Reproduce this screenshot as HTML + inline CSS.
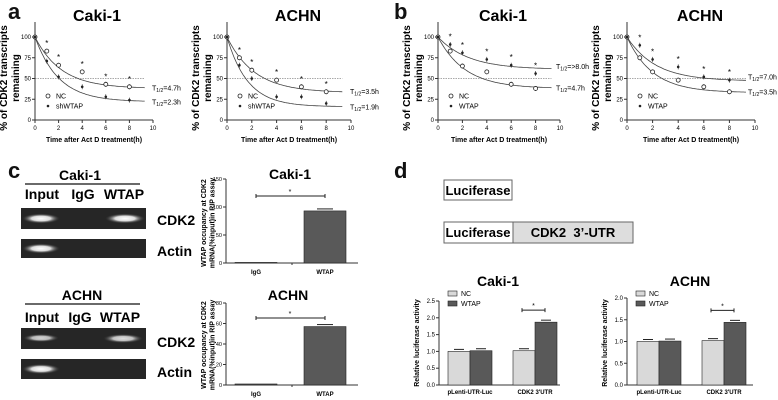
<!DOCTYPE html>
<html><head><meta charset="utf-8"><style>
html,body{margin:0;padding:0;background:#fff;}
svg{display:block;font-family:"Liberation Sans",Arial,sans-serif;}
</style></head><body>
<svg id="fig" width="778" height="400" viewBox="0 0 778 400" xmlns="http://www.w3.org/2000/svg">
<defs>
<radialGradient id="band" cx="50%" cy="50%" r="50%"><stop offset="0" stop-color="#fff"/><stop offset="0.5" stop-color="#ddd"/><stop offset="1" stop-color="#333" stop-opacity="0"/></radialGradient>
</defs>
<g font-weight="bold" font-size="22" fill="#111">
<text x="8" y="19">a</text>
<text x="394" y="19">b</text>
<text x="8" y="178">c</text>
<text x="394" y="178">d</text>
</g>
<g>
<text x="80" y="180" font-size="14" font-weight="bold" text-anchor="middle">Caki-1</text>
<line x1="25" y1="184" x2="140" y2="184" stroke="#111" stroke-width="1.2"/>
<text x="42" y="199" font-size="14" font-weight="bold" text-anchor="middle">Input</text>
<text x="83" y="199" font-size="14" font-weight="bold" text-anchor="middle">IgG</text>
<text x="124" y="199" font-size="14" font-weight="bold" text-anchor="middle">WTAP</text>
<rect x="21" y="208" width="125" height="21" fill="#262626"/>
<ellipse cx="41" cy="218.5" rx="19" ry="5" fill="url(#band)"/>
<ellipse cx="125" cy="218.5" rx="20" ry="5" fill="url(#band)"/>
<rect x="21" y="239" width="125" height="19" fill="#262626"/>
<ellipse cx="41" cy="248.5" rx="19" ry="5" fill="url(#band)"/>
<text x="157" y="225" font-size="14" font-weight="bold">CDK2</text>
<text x="157" y="256" font-size="14" font-weight="bold">Actin</text>
</g>
<g>
<text x="82" y="300" font-size="14" font-weight="bold" text-anchor="middle">ACHN</text>
<line x1="25" y1="304" x2="140" y2="304" stroke="#111" stroke-width="1.2"/>
<text x="42" y="322" font-size="14" font-weight="bold" text-anchor="middle">Input</text>
<text x="80" y="322" font-size="14" font-weight="bold" text-anchor="middle">IgG</text>
<text x="120" y="322" font-size="14" font-weight="bold" text-anchor="middle">WTAP</text>
<rect x="21" y="328" width="125" height="21" fill="#262626"/>
<ellipse cx="41" cy="338" rx="18" ry="4" fill="url(#band)" opacity="0.8"/>
<ellipse cx="123" cy="338.5" rx="20" ry="4.5" fill="url(#band)" opacity="0.85"/>
<rect x="21" y="359" width="125" height="20" fill="#262626"/>
<ellipse cx="41" cy="369" rx="19" ry="5" fill="url(#band)"/>
<text x="157" y="347" font-size="14" font-weight="bold">CDK2</text>
<text x="157" y="377" font-size="14" font-weight="bold">Actin</text>
</g>
<g>
<rect x="444" y="180" width="68" height="20" fill="#fff" stroke="#666"/>
<text x="478" y="195" font-size="13" font-weight="bold" text-anchor="middle">Luciferase</text>
<rect x="444" y="222" width="69" height="21" fill="#fff" stroke="#666"/>
<rect x="513" y="222" width="120" height="21" fill="#ddd" stroke="#666"/>
<text x="478" y="237" font-size="13" font-weight="bold" text-anchor="middle">Luciferase</text>
<text x="573" y="237" font-size="13" font-weight="bold" text-anchor="middle" xml:space="preserve">CDK2  3’-UTR</text>
</g>
<g id="charts"></g>
</svg>
<script>
var decayTimes = [0,1,2,4,6,8];
var aCakiNC = [100,83,66,58,43,40];
var aCakiSh = [100,71,52,40,28,24];
var aAchnNC = [100,75,60,48,40,34];
var aAchnSh = [100,66,50,28,28,20];
var bCakiNC = [100,83,65,58,43,38];
var bCakiW = [100,91,81,73,66,56];
var bAchnNC = [100,75,58,48,40,34];
var bAchnW = [100,90,73,64,52,48];
var aCakiFit = [[38,0.45],[22,0.5]];
var aAchnFit = [[33,0.45],[16,0.6]];
var bCakiFit = [[38,0.45],[61,0.4]];
var bAchnFit = [[33,0.5],[47,0.45]];
var yTicksDecay = [0,25,50,75,100];
var xTicksDecay = [0,2,4,6,8,10];
var ripCats = ["IgG","WTAP"];
var ripCaki = [1,93];
var ripAchn = [1,57];
var ripCakiTicks = [0,50,100,150];
var ripAchnTicks = [0,20,40,60,80];
var lucCats = ["pLenti-UTR-Luc","CDK2  3'UTR"];
var lucCakiNC = [1.0,1.02];
var lucCakiW = [1.02,1.87];
var lucAchnNC = [1.0,1.02];
var lucAchnW = [1.01,1.44];
var lucCakiTicks = [0,0.5,1.0,1.5,2.0,2.5];
var lucAchnTicks = [0,0.5,1.0,1.5,2.0];

var NS="http://www.w3.org/2000/svg";
var root=document.getElementById('charts');
function mk(tag,attrs,parent,txt){var e=document.createElementNS(NS,tag);for(var k in attrs)e.setAttribute(k,attrs[k]);if(txt!==undefined)e.textContent=txt;(parent||root).appendChild(e);return e;}

function decay(o){
  var g=mk('g',{});
  
  
  var X=function(t){return o.x0+t*(o.x10-o.x0)/10;};
  var Y=function(v){return 120-v*0.83;};
  mk('text',{x:o.tx,y:21,'font-size':16,'font-weight':'bold','text-anchor':'middle'},g,o.title);
  var yl=mk('text',{transform:'translate('+(o.x0-24)+',78) rotate(-90)','font-size':10,'font-weight':'bold','text-anchor':'middle'},g);
  mk('tspan',{x:0,dy:-4},yl,'% of CDK2 transcripts');
  mk('tspan',{x:0,dy:12},yl,'remaining');
  mk('line',{x1:o.x0,y1:22,x2:o.x0,y2:120,stroke:'#333'},g);
  mk('line',{x1:o.x0,y1:120,x2:o.x10,y2:120,stroke:'#333'},g);
  yTicksDecay.forEach(function(v){mk('line',{x1:o.x0-3,y1:Y(v),x2:o.x0,y2:Y(v),stroke:'#333'},g);mk('text',{x:o.x0-4,y:Y(v)+2,'font-size':6,'text-anchor':'end'},g,v);});
  xTicksDecay.forEach(function(t){mk('line',{x1:X(t),y1:120,x2:X(t),y2:123,stroke:'#333'},g);mk('text',{x:X(t),y:130,'font-size':6,'text-anchor':'middle'},g,t);});
  mk('text',{x:(o.x0+o.x10)/2,y:142,'font-size':7,'font-weight':'bold','text-anchor':'middle'},g,'Time after Act D treatment(h)');
  mk('line',{x1:o.x0,y1:Y(50),x2:X(9.3),y2:Y(50),stroke:'#555','stroke-width':0.6,'stroke-dasharray':'1.5,1'},g);
  [o.fit[0],o.fit[1]].forEach(function(f){
    var d='';for(var t=0;t<=9.3;t+=0.1){d+=(t?'L':'M')+X(t).toFixed(1)+','+Y(f[0]+(100-f[0])*Math.exp(-f[1]*t)).toFixed(1);}
    mk('path',{d:d,fill:'none',stroke:'#444','stroke-width':0.8},g);
  });
  decayTimes.forEach(function(t,i){
    var a=o.s1[i],b=o.s2[i];
    if(i>0){mk('line',{x1:X(t),y1:Y(a)-2.5,x2:X(t),y2:Y(a)+2.5,stroke:'#222','stroke-width':0.6},g);
      mk('line',{x1:X(t),y1:Y(b)-2.5,x2:X(t),y2:Y(b)+2.5,stroke:'#222','stroke-width':0.6},g);
      mk('text',{x:X(t),y:Y(Math.max(a,b))-5,'font-size':8,'text-anchor':'middle'},g,'*');}
    mk('circle',{cx:X(t),cy:Y(a),r:2,fill:'#fff',stroke:'#222','stroke-width':0.8},g);
    mk('circle',{cx:X(t),cy:Y(b),r:1.3,fill:'#222'},g);
  });
  mk('circle',{cx:o.x0+13,cy:96,r:2,fill:'#fff',stroke:'#222','stroke-width':0.8},g);
  mk('text',{x:o.x0+21,y:98.5,'font-size':7},g,'NC');
  mk('circle',{cx:o.x0+13,cy:106,r:1.3,fill:'#222'},g);
  mk('text',{x:o.x0+21,y:108.5,'font-size':7},g,o.l2);
  o.half.forEach(function(h){
    var t=mk('text',{x:o.x10+o.hx,y:Y(h[0])+2,'font-size':7},g);
    mk('tspan',{},t,'T');mk('tspan',{'font-size':5,dy:1.5},t,'1/2');mk('tspan',{dy:-1.5},t,'='+h[1]);
  });
}
decay({name:'decay-chart-a-caki',title:'Caki-1',tx:97,x0:35,x10:153,hx:-1,s1:aCakiNC,s2:aCakiSh,fit:aCakiFit,l2:'shWTAP',half:[[38,'4.7h'],[21,'2.3h']]});
decay({name:'decay-chart-a-achn',title:'ACHN',tx:298,x0:227,x10:351,hx:-1,s1:aAchnNC,s2:aAchnSh,fit:aAchnFit,l2:'shWTAP',half:[[34,'3.5h'],[15,'1.9h']]});
decay({name:'decay-chart-b-caki',title:'Caki-1',tx:503,x0:438,x10:560,hx:-4,s1:bCakiNC,s2:bCakiW,fit:bCakiFit,l2:'WTAP',half:[[64,'>8.0h'],[38,'4.7h']]});
decay({name:'decay-chart-b-achn',title:'ACHN',tx:700,x0:627,x10:755,hx:-7,s1:bAchnNC,s2:bAchnW,fit:bAchnFit,l2:'WTAP',half:[[51,'7.0h'],[33,'3.5h']]});

function rip(o){
  var g=mk('g',{});
  
  
  var Y=function(v){return o.y0-v*o.s;};
  mk('text',{x:o.tx,y:o.ty,'font-size':14,'font-weight':'bold','text-anchor':'middle'},g,o.title);
  var yl=mk('text',{transform:'translate(206,'+(o.y0-40)+') rotate(-90)','font-size':7,'font-weight':'bold','text-anchor':'middle'},g);
  mk('tspan',{x:0,dy:0},yl,'WTAP occupancy at CDK2');mk('tspan',{x:0,dy:8.5},yl,'mRNA(%input)in RIP assay');
  var top=Y(o.ticks[o.ticks.length-1]);
  mk('line',{x1:226,y1:top,x2:226,y2:o.y0,stroke:'#333'},g);
  mk('line',{x1:226,y1:o.y0,x2:358,y2:o.y0,stroke:'#333'},g);
  mk('line',{x1:292,y1:o.y0,x2:292,y2:o.y0+2,stroke:'#333'},g);
  o.ticks.forEach(function(v){mk('line',{x1:223,y1:Y(v),x2:226,y2:Y(v),stroke:'#333'},g);mk('text',{x:222,y:Y(v)+2,'font-size':5.5,'text-anchor':'end'},g,v);});
  var cx=[256,325];
  ripCats.forEach(function(c,i){
    var v=o.vals[i];
    var b=mk('rect',{x:cx[i]-21,y:Y(v),width:42,height:v*o.s,fill:'#595959',stroke:'#222','stroke-width':0.6},g);
    
    
    if(v>5)mk('line',{x1:cx[i]-8,y1:Y(v)-2,x2:cx[i]+8,y2:Y(v)-2,stroke:'#222'},g);
    mk('text',{x:cx[i],y:o.y0+11,'font-size':6,'font-weight':'bold','text-anchor':'middle'},g,c);
  });
  mk('line',{x1:256,y1:o.sig,x2:325,y2:o.sig,stroke:'#222'},g);
  mk('line',{x1:256,y1:o.sig-2,x2:256,y2:o.sig+2,stroke:'#222'},g);
  mk('line',{x1:325,y1:o.sig-2,x2:325,y2:o.sig+2,stroke:'#222'},g);
  mk('text',{x:290,y:o.sig-2,'font-size':7,'text-anchor':'middle'},g,'*');
}
rip({name:'rip-bar-chart-caki',title:'Caki-1',tx:290,ty:179,y0:263,s:0.56,ticks:ripCakiTicks,vals:ripCaki,sig:196});
rip({name:'rip-bar-chart-achn',title:'ACHN',tx:288,ty:300,y0:385,s:1.025,ticks:ripAchnTicks,vals:ripAchn,sig:318});

function luc(o){
  var g=mk('g',{});
  
  
  var Y=function(v){return 385-v*o.s;};
  mk('text',{x:o.tx,y:286,'font-size':14,'font-weight':'bold','text-anchor':'middle'},g,o.title);
  mk('text',{transform:'translate('+(o.ax-20)+',343) rotate(-90)','font-size':7,'font-weight':'bold','text-anchor':'middle'},g,'Relative luciferase activity');
  var top=Y(o.ticks[o.ticks.length-1]);
  mk('line',{x1:o.ax,y1:top,x2:o.ax,y2:385,stroke:'#333'},g);
  mk('line',{x1:o.ax,y1:385,x2:o.ae,y2:385,stroke:'#333'},g);
  o.ticks.forEach(function(v){mk('line',{x1:o.ax-3,y1:Y(v),x2:o.ax,y2:Y(v),stroke:'#333'},g);mk('text',{x:o.ax-4,y:Y(v)+2,'font-size':6,'text-anchor':'end'},g,v.toFixed(1));});
  lucCats.forEach(function(c,i){
    var gx=o.gx[i];
    [[o.nc[i],'#d9d9d9',0,'nc'],[o.w[i],'#595959',22,'wtap']].forEach(function(s){
      var b=mk('rect',{x:gx+s[2],y:Y(s[0]),width:22,height:s[0]*o.s,fill:s[1],stroke:'#222','stroke-width':0.6},g);
      
      
      mk('line',{x1:gx+s[2]+6,y1:Y(s[0])-2,x2:gx+s[2]+16,y2:Y(s[0])-2,stroke:'#222'},g);
    });
    mk('text',{x:gx+22,y:394,'font-size':6,'font-weight':'bold','text-anchor':'middle','xml:space':'preserve'},g,c);
  });
  var s1=o.gx[1]+9,s2=o.gx[1]+32,sy=Y(o.w[1])-12;
  mk('line',{x1:s1,y1:sy,x2:s2,y2:sy,stroke:'#222'},g);
  mk('line',{x1:s1,y1:sy-2,x2:s1,y2:sy+2,stroke:'#222'},g);
  mk('line',{x1:s2,y1:sy-2,x2:s2,y2:sy+2,stroke:'#222'},g);
  mk('text',{x:(s1+s2)/2,y:sy-2,'font-size':7,'text-anchor':'middle'},g,'*');
  mk('rect',{x:o.ax+9,y:291,width:9,height:5,fill:'#d9d9d9',stroke:'#222','stroke-width':0.6},g);
  mk('text',{x:o.ax+22,y:296,'font-size':7},g,'NC');
  mk('rect',{x:o.ax+9,y:301,width:9,height:5,fill:'#595959',stroke:'#222','stroke-width':0.6},g);
  mk('text',{x:o.ax+22,y:306,'font-size':7},g,'WTAP');
}
luc({name:'luciferase-chart-caki',title:'Caki-1',tx:498,ax:439,ae:560,s:33.6,ticks:lucCakiTicks,nc:lucCakiNC,w:lucCakiW,gx:[448,513]});
luc({name:'luciferase-chart-achn',title:'ACHN',tx:690,ax:627,ae:753,s:43.5,ticks:lucAchnTicks,nc:lucAchnNC,w:lucAchnW,gx:[637,702]});
</script>
</body></html>
